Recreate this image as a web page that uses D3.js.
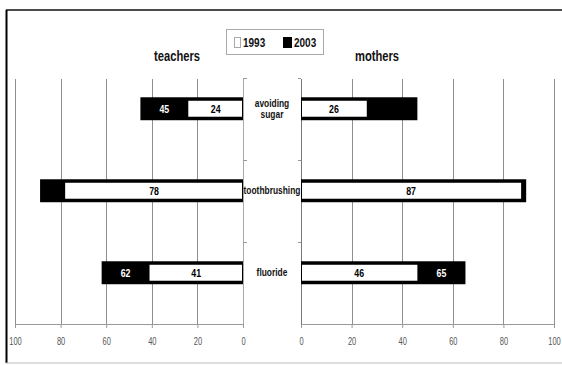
<!DOCTYPE html>
<html><head><meta charset="utf-8">
<script src="https://cdn.jsdelivr.net/npm/d3@7"></script>
<style>
html,body{margin:0;padding:0;background:#fff;}
text{font-family:"Liberation Sans","Arial",sans-serif;}
</style></head>
<body><svg id="c" width="562" height="365"></svg>
<script>
const categories = ["avoiding sugar", "toothbrushing", "fluoride"];
const categoryLines = [["avoiding", "sugar"], ["toothbrushing"], ["fluoride"]];
const teachers1993 = [24, 78, 41];
const teachers2003 = [45, 89, 62];
const mothers1993 = [26, 87, 46];
const mothers2003 = [46, 89, 65];
const teachers2003Shown = [true, false, true];
const mothers2003Shown = [false, false, true];
const tickValues = [0, 20, 40, 60, 80, 100];
const seriesNames = ["1993", "2003"];
const panelTitles = ["teachers", "mothers"];

const svg = d3.select("#c");
const W = 562, H = 365;
const SX = 0.8; // narrow-font emulation
svg.append("rect").attr("width", W).attr("height", H).attr("fill", "#fff");

function label(g, x, yy, t, size, weight, fill, anchor) {
  return g.append("text").attr("transform", `translate(${x},${yy}) scale(${SX},1)`)
    .attr("dy", "0.35em").attr("text-anchor", anchor || "middle")
    .attr("font-size", size).attr("font-weight", weight).attr("fill", fill).text(t);
}

// frame
svg.append("line").attr("x1", 6).attr("x2", W).attr("y1", 10).attr("y2", 10).attr("stroke", "#111").attr("stroke-width", 1.5);
svg.append("line").attr("x1", 6.5).attr("x2", 6.5).attr("y1", 10).attr("y2", 363).attr("stroke", "#000").attr("stroke-width", 2);
svg.append("line").attr("x1", 6).attr("x2", W).attr("y1", 363).attr("y2", 363).attr("stroke", "#bbb").attr("stroke-width", 1);

const xL = d3.scaleLinear().domain([0, 100]).range([243, 15]);
const xR = d3.scaleLinear().domain([0, 100]).range([301, 554]);
const y = d3.scaleBand().domain(categories).range([78, 324]).paddingInner(0).paddingOuter(0);
const bw = y.bandwidth();
const barOff = bw * 0.235, barH = bw * 0.28;
const wOff = barOff + 3.5, wH = barH - 7;

const axisY = 324;
function grid(scale) {
  svg.append("g").selectAll("line").data(tickValues.filter(d => d > 0)).join("line")
    .attr("x1", d => Math.round(scale(d)) + 0.5).attr("x2", d => Math.round(scale(d)) + 0.5)
    .attr("y1", 79).attr("y2", axisY).attr("stroke", "#8f8f8f").attr("stroke-width", 1);
}
grid(xL); grid(xR);

svg.append("line").attr("x1", 243.5).attr("x2", 243.5).attr("y1", 79).attr("y2", axisY).attr("stroke", "#aaa");
svg.append("line").attr("x1", 301.5).attr("x2", 301.5).attr("y1", 79).attr("y2", axisY).attr("stroke", "#777");
categories.forEach((c, i) => {
  const yy = Math.round(y(c)) + 0.5;
  svg.append("line").attr("x1", 243).attr("x2", 247).attr("y1", yy).attr("y2", yy).attr("stroke", "#999");
  svg.append("line").attr("x1", 298).attr("x2", 301).attr("y1", yy).attr("y2", yy).attr("stroke", "#999");
});

const axL = d3.axisBottom(xL).tickValues(tickValues).tickSize(4).tickPadding(10);
const axR = d3.axisBottom(xR).tickValues(tickValues).tickSize(4).tickPadding(10);
[axL, axR].forEach(ax => {
  const g = svg.append("g").attr("transform", `translate(0,${axisY})`).call(ax);
  g.select(".domain").remove();
  g.selectAll(".tick line").attr("stroke", "#999");
  g.selectAll(".tick text").attr("fill", "#555").attr("font-size", 10)
    .attr("transform", `scale(0.75,1)`).attr("font-family", "'Liberation Sans',sans-serif");
});
svg.append("line").attr("x1", xL(100)).attr("x2", xL(0)).attr("y1", axisY + 0.5).attr("y2", axisY + 0.5).attr("stroke", "#999");
svg.append("line").attr("x1", xR(0)).attr("x2", xR(100)).attr("y1", axisY + 0.5).attr("y2", axisY + 0.5).attr("stroke", "#999");

function panel(scale, v93, v03, shown, dir) {
  const g = svg.append("g");
  categories.forEach((c, i) => {
    const y0 = y(c);
    const x0 = scale(0), x93 = scale(v93[i]), x03 = scale(v03[i]);
    g.append("rect").attr("x", Math.min(x0, x03)).attr("y", y0 + barOff)
      .attr("width", Math.abs(x03 - x0)).attr("height", barH).attr("fill", "#000");
    g.append("rect").attr("x", Math.min(x0, x93) + (dir < 0 ? 0 : 1)).attr("y", y0 + wOff)
      .attr("width", Math.abs(x93 - x0) - 1).attr("height", wH).attr("fill", "#fff");
    label(g, (x0 + x93) / 2, y0 + barOff + barH / 2, v93[i], 11, "bold", "#000");
    if (shown[i]) label(g, (x93 + x03) / 2, y0 + barOff + barH / 2, v03[i], 11, "bold", "#fff");
  });
}
panel(xL, teachers1993, teachers2003, teachers2003Shown, -1);
panel(xR, mothers1993, mothers2003, mothers2003Shown, 1);

categories.forEach((c, i) => {
  const lines = categoryLines[i];
  const cy = y(c) + barOff + barH / 2;
  const lh = 11.5;
  lines.forEach((t, j) => {
    label(svg, 272, cy + (j - (lines.length - 1) / 2) * lh, t, 10.5, "bold", "#111");
  });
});

label(svg, 177, 56, panelTitles[0], 14, "bold", "#111");
label(svg, 377, 56, panelTitles[1], 14, "bold", "#111");

const lg = svg.append("g");
lg.append("rect").attr("x", 226.5).attr("y", 29.5).attr("width", 97).attr("height", 25).attr("fill", "#fff").attr("stroke", "#aaa");
lg.append("rect").attr("x", 234.5).attr("y", 37.5).attr("width", 6).attr("height", 10).attr("fill", "#fff").attr("stroke", "#aaa");
label(lg, 243, 43, seriesNames[0], 12.5, "bold", "#111", "start");
lg.append("rect").attr("x", 283).attr("y", 37).attr("width", 9).attr("height", 11).attr("fill", "#000");
label(lg, 294, 43, seriesNames[1], 12.5, "bold", "#111", "start");
</script></body></html>
